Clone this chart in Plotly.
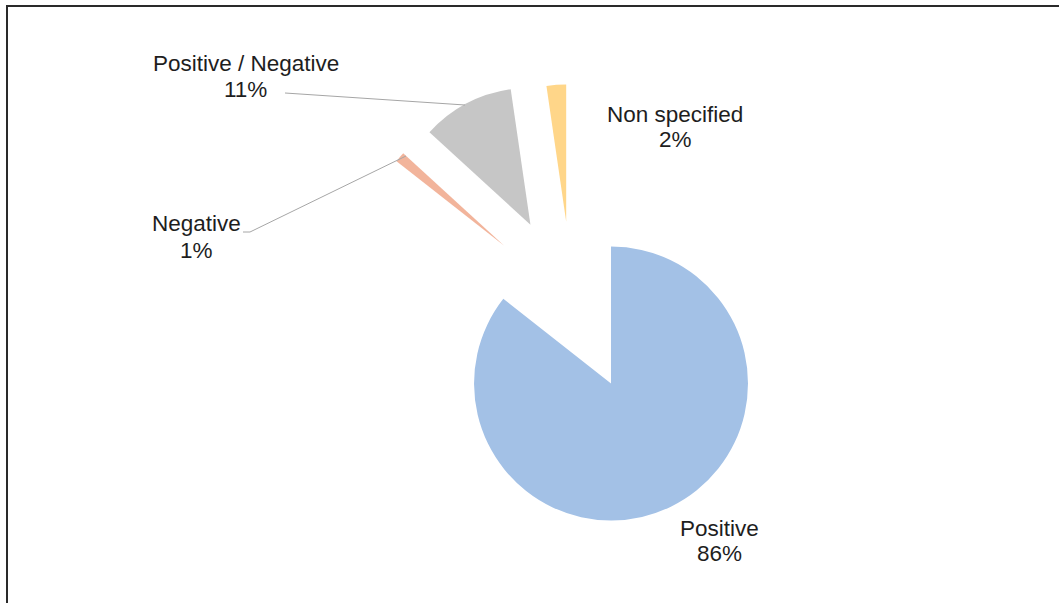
import plotly.graph_objects as go

# ---- data ----
categories = ["Positive", "Negative", "Positive / Negative", "Non specified"]
values = [85.6, 1.2, 10.9, 2.3]
colors = ["#A3C1E6", "#F2B49B", "#C6C6C6", "#FFD689"]
pulls = [0.65, 0.65, 0.65, 0.60]

W, H = 1059, 603
total = sum(values)
percents = [round(v / total * 100) for v in values]


def px(x):
    return x / W


def py(y):
    return 1 - y / H


# pie geometry (pixels): centre and half-height of domain
cx, cy, half_h, half_w = 572.1, 303.4, 226.0, 300.0

fig = go.Figure()
fig.add_trace(go.Pie(
    labels=categories,
    values=values,
    sort=False,
    direction="clockwise",
    rotation=0,
    pull=pulls,
    marker=dict(colors=colors, line=dict(width=0)),
    textinfo="none",
    hoverinfo="label+percent",
    showlegend=False,
    domain=dict(x=[px(cx - half_w), px(cx + half_w)],
                y=[py(cy + half_h), py(cy - half_h)]),
))

# label layout: (x centre, y of first line, y of second line) in pixels
label_pos = {
    "Positive": (719, 528.5, 553.5),
    "Negative": (196, 223.5, 250),
    "Positive / Negative": (245.5, 63.5, 89.5),
    "Non specified": (675, 114.5, 139.5),
}

font = dict(family="Liberation Sans, Arial, sans-serif", size=22.5, color="#1e1e1e")
annotations = []
for cat, pct in zip(categories, percents):
    x, y1, y2 = label_pos[cat]
    annotations.append(dict(text=cat, x=px(x), y=py(y1), xref="paper", yref="paper",
                            xanchor="center", yanchor="middle", showarrow=False, font=font))
    annotations.append(dict(text=f"{pct}%", x=px(x), y=py(y2), xref="paper", yref="paper",
                            xanchor="center", yanchor="middle", showarrow=False, font=font))

leader = dict(color="#A6A6A6", width=1)
shapes = [
    # leader lines
    dict(type="line", xref="paper", yref="paper", x0=px(285), y0=py(93), x1=px(465), y1=py(105), line=leader),
    dict(type="line", xref="paper", yref="paper", x0=px(243), y0=py(232), x1=px(250), y1=py(232), line=leader),
    dict(type="line", xref="paper", yref="paper", x0=px(250), y0=py(232), x1=px(406), y1=py(156), line=leader),
    # frame (top and left)
    dict(type="line", xref="paper", yref="paper", x0=px(6), y0=py(6), x1=1, y1=py(6),
         line=dict(color="#2a2a2a", width=2)),
    dict(type="line", xref="paper", yref="paper", x0=px(7), y0=py(5), x1=px(7), y1=0,
         line=dict(color="#2a2a2a", width=2)),
]

fig.update_layout(
    width=W, height=H,
    margin=dict(l=0, r=0, t=0, b=0),
    paper_bgcolor="white",
    plot_bgcolor="white",
    annotations=annotations,
    shapes=shapes,
)

fig.write_html("out.html")
